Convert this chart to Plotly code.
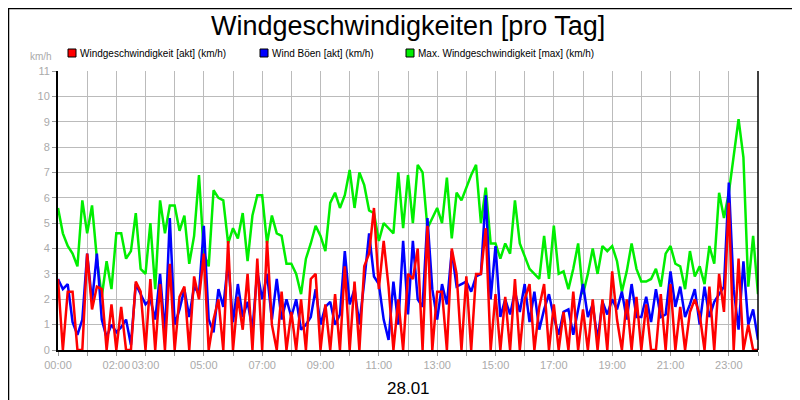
import plotly.graph_objects as go

hours_labeled = [0, 2, 3, 5, 7, 9, 11, 13, 15, 17, 19, 21, 23]
tick_labels = ["00:00", "02:00", "03:00", "05:00", "07:00", "09:00", "11:00",
               "13:00", "15:00", "17:00", "19:00", "21:00", "23:00"]

green = [
 5.6,4.6,4.1,3.8,3.3,5.9,
 4.6,5.7,3.6,2.1,3.5,2.4,
 4.6,4.6,3.6,3.9,5.4,3.2,
 3.0,5.0,2.4,5.9,4.6,5.7,
 5.7,4.7,5.3,3.4,4.5,6.9,
 3.8,3.3,6.3,6.0,5.9,4.2,
 4.8,4.4,5.4,3.5,5.3,6.1,
 6.1,4.2,5.3,4.6,4.5,3.4,
 3.4,3.0,2.2,3.6,4.2,4.9,
 4.5,3.9,5.8,6.2,5.6,6.1,
 7.1,5.6,7.0,6.5,5.5,5.4,
 4.3,5.0,4.8,4.6,7.0,4.8,
 6.9,5.0,7.3,7.0,4.8,5.2,
 5.6,5.0,6.8,4.4,6.2,5.9,
 6.4,6.9,7.3,5.0,6.4,4.2,
 4.2,3.6,4.2,3.8,5.9,4.2,
 3.7,3.2,3.0,2.8,4.5,2.8,
 4.9,3.0,3.1,2.4,3.2,4.2,
 2.2,3.0,4.0,3.0,4.1,3.9,
 4.1,3.5,2.3,3.1,4.2,3.2,
 2.7,2.7,2.8,3.2,2.5,3.8,
 4.1,3.4,3.3,2.4,3.9,2.9,
 3.3,2.6,4.1,3.4,6.2,5.2,
 6.2,7.7,9.1,7.6,2.5,4.5,
 2.2]

red = [
 2.8,0,2.3,2.3,0,0,
 3.8,1.6,2.5,2.4,0,1.8,
 0,1.7,0,0,2.7,2.3,
 0,2.8,0,2.6,0,3.4,
 0,2.1,2.5,0,2.9,2.0,
 3.8,0,1.2,2.0,0,4.3,
 0,2.1,0.8,3.0,0,3.6,
 0,4.3,1.0,0,2.3,0,
 1.5,0,2.0,0,2.8,3.0,
 0,1.8,0,2.2,0,3.3,
 0,2.7,0,3.3,3.8,5.6,
 2.4,4.3,2.5,0,2.0,0,
 3.0,2.8,4.0,0,4.9,0,
 2.3,2.3,0,4.0,3.0,0,
 2.9,0,3.0,3.0,4.8,0,
 2.2,0,2.1,0,2.8,0,
 2.0,2.6,0,1.7,2.6,0,
 1.8,0,1.5,0,2.3,0,
 1.6,0,2.0,0,2.0,0,
 3.1,1.2,0,2.0,0,2.1,
 0,1.8,0,0,2.2,0,
 2.6,0,1.7,0,1.5,2.0,
 1.4,0,2.5,0,3.0,1.5,
 5.8,0,3.6,0,1.0,0,
 0]

blue = [
 2.8,2.4,2.6,1.1,0.6,1.2,
 3.8,1.9,3.8,1.2,0.5,1.0,
 0.7,0.9,1.2,0.2,2.6,2.2,
 1.8,2.0,1.2,3.0,0.6,5.2,
 1.0,1.6,2.4,1.3,2.5,2.2,
 4.9,1.2,0.7,2.4,1.7,3.5,
 1.1,2.6,1.3,1.9,0.8,3.1,
 2.0,3.0,1.2,2.8,1.2,2.0,
 1.3,2.0,0.8,1.0,1.3,2.4,
 1.0,1.7,1.9,1.0,1.4,3.9,
 1.8,2.4,1.0,2.7,4.6,2.9,
 2.6,1.2,0.4,2.7,1.0,4.3,
 1.4,4.3,2.0,1.7,5.2,2.4,
 1.2,2.6,1.8,3.9,2.5,2.6,
 2.7,2.3,2.9,3.0,6.1,2.0,
 4.1,1.3,2.0,1.4,2.3,1.5,
 2.6,1.1,2.3,0.8,1.6,2.2,
 1.3,0.6,1.5,1.6,0.6,1.6,
 2.6,1.3,1.8,0.4,1.9,1.4,
 2.0,1.6,2.3,1.2,2.6,1.3,
 1.3,2.1,1.1,2.4,1.3,1.4,
 3.1,1.7,2.5,1.3,1.8,2.4,
 1.0,2.5,1.3,1.9,2.2,2.5,
 6.6,2.4,0.8,3.5,1.0,1.6,
 0.4]

x = [i / 6 for i in range(len(green))]

names = ["Windgeschwindigkeit [akt] (km/h)", "Wind Böen [akt] (km/h)",
         "Max. Windgeschwindigkeit [max] (km/h)"]
colors = ["#ff0000", "#0000ff", "#00ee00"]
legend_px = [60, 252, 398]  # left pixel of legend squares

fig = go.Figure()
for data, c in [(green, colors[2]), (blue, colors[1]), (red, colors[0])]:
    fig.add_trace(go.Scatter(x=x, y=data, mode="lines", line=dict(color=c, width=2.5),
                             showlegend=False, hoverinfo="skip"))

tickvals = list(range(25))
ticktext = [tick_labels[hours_labeled.index(h)] if h in hours_labeled else "" for h in tickvals]

W, H = 700.0, 279.0
def px(xp):
    return (xp - 50) / W
def py(yp):
    return (342 - yp) / H

annotations = [
    dict(text="Windgeschwindigkeiten [pro Tag]", xref="paper", yref="paper",
         x=px(400), y=py(18), xanchor="center", yanchor="middle", showarrow=False,
         font=dict(size=27)),
    dict(text="km/h", xref="paper", yref="paper", x=px(46), y=py(49),
         xanchor="right", yanchor="middle", showarrow=False,
         font=dict(size=10, color="#aaaaaa")),
    dict(text="28.01", xref="paper", yref="paper", x=px(400), y=py(380),
         xanchor="center", yanchor="middle", showarrow=False,
         font=dict(size=17, color="black")),
]
shapes = [dict(type="rect", xref="paper", yref="paper",
               x0=px(0.5), x1=px(799.5), y0=py(399.5), y1=py(0.5),
               line=dict(color="black", width=1.5)),
          dict(type="line", xref="paper", yref="paper", x0=1, x1=1, y0=0, y1=1,
               line=dict(color="black", width=1.5))]
for n, c, lp in zip(names, colors, legend_px):
    shapes.append(dict(type="rect", xref="paper", yref="paper",
                       x0=px(lp), x1=px(lp + 8), y0=py(49), y1=py(41),
                       fillcolor=c, line=dict(color="black", width=1)))
    annotations.append(dict(text=n, xref="paper", yref="paper", x=px(lp + 10), y=py(45),
                            xanchor="left", yanchor="middle", showarrow=False,
                            font=dict(size=10, color="black")))

fig.update_layout(
    width=800, height=400,
    margin=dict(l=50, r=50, t=58, b=58, autoexpand=False),
    paper_bgcolor="white", plot_bgcolor="white",
    font=dict(family="Liberation Sans, Arial", color="black"),
    showlegend=False,
    xaxis=dict(range=[0, 24], tickvals=tickvals, ticktext=ticktext, tickangle=0,
               automargin=False,
               showgrid=True, gridcolor="#bbbbbb", gridwidth=1,
               showline=True, linecolor="black", linewidth=2,
               ticks="outside", ticklen=4, tickcolor="#999999",
               tickfont=dict(size=11, color="#aaaaaa"), zeroline=False),
    yaxis=dict(range=[0, 11], dtick=1, showgrid=True, gridcolor="#bbbbbb",
               automargin=False,
               showline=True, linecolor="black", linewidth=2,
               ticks="outside", ticklen=4, tickcolor="#999999",
               tickfont=dict(size=11, color="#aaaaaa"), zeroline=False),
    annotations=annotations,
    shapes=shapes,
)
fig.update_layout(margin=dict(t=63))
fig.write_html("out.html")
